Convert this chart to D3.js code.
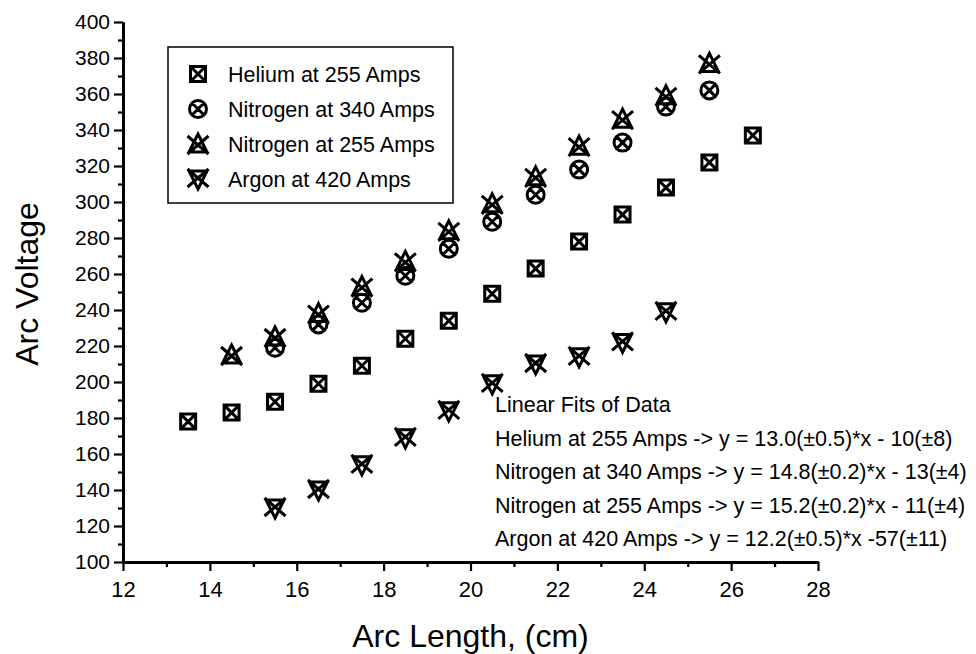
<!DOCTYPE html>
<html>
<head>
<meta charset="utf-8">
<script src="https://cdn.jsdelivr.net/npm/d3@7"></script>
<style>
  body { margin: 0; background: #fff; }
  text { font-family: "Liberation Sans", Arial, sans-serif; fill: #000; }
</style>
</head>
<body>
<div id="app"></div>
<script>
const width = 976,
    height = 654;

// arc length (cm) for each series
const heliumX = [13.5, 14.5, 15.5, 16.5, 17.5, 18.5, 19.5, 20.5, 21.5, 22.5, 23.5, 24.5, 25.5, 26.5];
const heliumY = [178, 183, 189, 199, 209, 224, 234, 249, 263, 278, 293, 308, 322, 337];

const n340X = [15.5, 16.5, 17.5, 18.5, 19.5, 20.5, 21.5, 22.5, 23.5, 24.5, 25.5];
const n340Y = [219, 232, 244, 259, 274, 289, 304, 318, 333, 353, 362];

const n255X = [14.5, 15.5, 16.5, 17.5, 18.5, 19.5, 20.5, 21.5, 22.5, 23.5, 24.5, 25.5];
const n255Y = [215, 225, 238, 253, 267, 284, 299, 314, 331, 346, 359, 377];

const argonX = [15.5, 16.5, 17.5, 18.5, 19.5, 20.5, 21.5, 22.5, 23.5, 24.5];
const argonY = [130, 140, 154, 169, 184, 199, 210, 214, 222, 239];

const seriesNames = ["Helium at 255 Amps", "Nitrogen at 340 Amps", "Nitrogen at 255 Amps", "Argon at 420 Amps"];
const fitLines = [
    "Linear Fits of Data",
    "Helium at 255 Amps -> y = 13.0(\u00b10.5)*x - 10(\u00b18)",
    "Nitrogen at 340 Amps -> y = 14.8(\u00b10.2)*x - 13(\u00b14)",
    "Nitrogen at 255 Amps -> y = 15.2(\u00b10.2)*x - 11(\u00b14)",
    "Argon at 420 Amps -> y = 12.2(\u00b10.5)*x -57(\u00b111)"
];

const xMajor = d3.range(12, 29, 2);
const xMinor = d3.range(13, 28, 2);
const yMajor = d3.range(100, 401, 20);
const yMinor = d3.range(110, 400, 20);

const series = [
    {name: seriesNames[0], shape: "square", pts: heliumX.map((x, i) => ({x, y: heliumY[i]}))},
    {name: seriesNames[1], shape: "circle", pts: n340X.map((x, i) => ({x, y: n340Y[i]}))},
    {name: seriesNames[2], shape: "up", pts: n255X.map((x, i) => ({x, y: n255Y[i]}))},
    {name: seriesNames[3], shape: "down", pts: argonX.map((x, i) => ({x, y: argonY[i]}))}
];

var x = d3.scaleLinear().domain([12, 28]).range([123, 818]);
var y = d3.scaleLinear().domain([100, 400]).range([562, 22]);

const svg = d3.select("#app")
    .append("svg")
    .attr("width", width)
    .attr("height", height);

// minor ticks first, then the major axis with labels
svg.append("g")
    .attr("transform", `translate(0, ${y(100)})`)
    .call(d3.axisBottom(x).tickValues(xMinor).tickSize(5).tickSizeOuter(0).tickFormat(""));
const xAxis = svg.append("g")
    .attr("class", "x axis")
    .attr("transform", `translate(0, ${y(100)})`)
    .call(d3.axisBottom(x).tickValues(xMajor).tickSize(9).tickSizeOuter(0).tickPadding(10));

svg.append("g")
    .attr("transform", `translate(${x(12)}, 0)`)
    .call(d3.axisLeft(y).tickValues(yMinor).tickSize(5).tickSizeOuter(0).tickFormat(""));
const yAxis = svg.append("g")
    .attr("class", "y axis")
    .attr("transform", `translate(${x(12)}, 0)`)
    .call(d3.axisLeft(y).tickValues(yMajor).tickSize(9).tickSizeOuter(0).tickPadding(4));

svg.selectAll(".domain").attr("stroke-width", 3);
svg.selectAll(".tick line").attr("stroke-width", 2.2);
svg.selectAll(".tick text")
    .style("font-family", "'Liberation Sans', Arial, sans-serif");
xAxis.selectAll(".tick text").style("font-size", "22px");
yAxis.selectAll(".tick text").style("font-size", "21px");

// axis titles
svg.append("text")
    .attr("x", (x(12) + x(28)) / 2)
    .attr("y", 647)
    .attr("text-anchor", "middle")
    .style("font-size", "32px")
    .text("Arc Length, (cm)");

svg.append("text")
    .attr("transform", `translate(38, ${(y(100) + y(400)) / 2 - 8}) rotate(-90)`)
    .attr("text-anchor", "middle")
    .style("font-size", "32px")
    .text("Arc Voltage");

// marker shapes, drawn around 0,0
function markerPath(shape) {
    const p = d3.path();
    if (shape === "square") {
        p.rect(-7.5, -7.5, 15, 15);
        p.moveTo(-7.5, -7.5); p.lineTo(7.5, 7.5);
        p.moveTo(7.5, -7.5); p.lineTo(-7.5, 7.5);
    } else if (shape === "circle") {
        p.moveTo(8.5, 0); p.arc(0, 0, 8.5, 0, 2 * Math.PI);
        p.moveTo(-6, -6); p.lineTo(6, 6);
        p.moveTo(6, -6); p.lineTo(-6, 6);
    } else if (shape === "up") {
        p.moveTo(0, -10); p.lineTo(9, 8); p.lineTo(-9, 8); p.closePath();
        p.moveTo(-10.5, -8); p.lineTo(10.5, 10);
        p.moveTo(10.5, -8); p.lineTo(-10.5, 10);
    } else {
        p.moveTo(0, 10); p.lineTo(9, -8); p.lineTo(-9, -8); p.closePath();
        p.moveTo(-10.5, -10); p.lineTo(10.5, 8);
        p.moveTo(10.5, -10); p.lineTo(-10.5, 8);
    }
    return p.toString();
}

series.forEach(s => {
    svg.append("g").selectAll("path")
        .data(s.pts).enter()
        .append("path")
        .attr("d", markerPath(s.shape))
        .attr("transform", d => `translate(${x(d.x)}, ${y(d.y)})`)
        .attr("fill", "none")
        .attr("stroke", "black")
        .attr("stroke-width", 3);
});

// legend
const legend = svg.append("g");
legend.append("rect")
    .attr("x", 168).attr("y", 47)
    .attr("width", 285).attr("height", 156)
    .attr("fill", "none")
    .attr("stroke", "black")
    .attr("stroke-width", 1.5);

series.forEach((s, i) => {
    const ly = 74 + i * 35;
    legend.append("path")
        .attr("d", markerPath(s.shape))
        .attr("transform", `translate(198, ${ly})`)
        .attr("fill", "none")
        .attr("stroke", "black")
        .attr("stroke-width", 3);
    legend.append("text")
        .attr("x", 228)
        .attr("y", ly + 7.5)
        .style("font-size", "21.5px")
        .text(s.name);
});

// fit results
svg.append("g").selectAll("text")
    .data(fitLines).enter()
    .append("text")
    .attr("x", 495)
    .attr("y", (_, i) => 412 + i * 33.5)
    .style("font-size", "21.5px")
    .text(d => d);
</script>
</body>
</html>
